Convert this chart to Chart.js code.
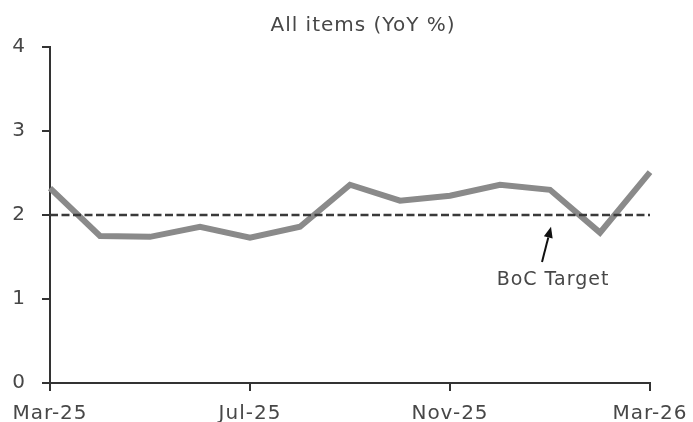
<!DOCTYPE html>
<html>
<head>
<meta charset="utf-8">
<script src="https://cdn.jsdelivr.net/npm/chart.js@4"></script>
<style>
html,body{margin:0;padding:0;background:#fff;}
#wrap{width:693px;height:422px;}
</style>
</head>
<body>
<div id="wrap"><canvas id="c" width="693" height="422"></canvas></div>
<script>
const months = ['Mar-25','Apr-25','May-25','Jun-25','Jul-25','Aug-25','Sep-25','Oct-25','Nov-25','Dec-25','Jan-26','Feb-26','Mar-26'];
const allItems = [2.32, 1.75, 1.74, 1.86, 1.73, 1.86, 2.36, 2.17, 2.23, 2.36, 2.30, 1.79, 2.51];
const bocTarget = [2, 2, 2, 2, 2, 2, 2, 2, 2, 2, 2, 2, 2];
const yTicks = [0, 1, 2, 3, 4];
const titleText = 'All items (YoY %)';
const noteText = 'BoC Target';

const FONT = '"DejaVu Sans", sans-serif';
const TXT = '#474747';
const AX = '#333333';
const SPACING = '1px';

const spacingPlugin = {
  id: 'spacing',
  beforeInit(chart){ chart.ctx.letterSpacing = SPACING; },
  beforeUpdate(chart){ chart.ctx.letterSpacing = SPACING; },
  beforeDraw(chart){ chart.ctx.letterSpacing = SPACING; }
};

const titlePlugin = {
  id: 'customTitle',
  afterDraw(chart){
    const ctx = chart.ctx;
    ctx.save();
    ctx.letterSpacing = SPACING;
    ctx.font = '20px ' + FONT;
    ctx.fillStyle = TXT;
    ctx.textAlign = 'center';
    ctx.textBaseline = 'middle';
    ctx.fillText(titleText, 363, 26);
    ctx.restore();
  }
};

const notePlugin = {
  id: 'note',
  afterDatasetsDraw(chart){
    const ctx = chart.ctx;
    const xs = chart.scales.x, ys = chart.scales.y;
    const tipX = xs.getPixelForValue(10.02), tipY = ys.getPixelForValue(1.86);
    const tailX = xs.getPixelForValue(9.84), tailY = ys.getPixelForValue(1.44);
    ctx.save();
    ctx.strokeStyle = '#111';
    ctx.fillStyle = '#111';
    ctx.lineWidth = 2;
    const ang = Math.atan2(tipY - tailY, tipX - tailX);
    const headLen = 11, headW = 4.5;
    const bx = tipX - headLen*Math.cos(ang), by = tipY - headLen*Math.sin(ang);
    ctx.beginPath();
    ctx.moveTo(tailX, tailY);
    ctx.lineTo(bx, by);
    ctx.stroke();
    ctx.beginPath();
    ctx.moveTo(tipX, tipY);
    ctx.lineTo(bx + headW*Math.sin(ang), by - headW*Math.cos(ang));
    ctx.lineTo(bx - headW*Math.sin(ang), by + headW*Math.cos(ang));
    ctx.closePath();
    ctx.fill();
    ctx.letterSpacing = SPACING;
    ctx.font = '19px ' + FONT;
    ctx.fillStyle = TXT;
    ctx.textAlign = 'center';
    ctx.textBaseline = 'middle';
    ctx.fillText(noteText, xs.getPixelForValue(10.06), ys.getPixelForValue(1.23));
    ctx.restore();
  }
};

new Chart(document.getElementById('c'), {
  type: 'line',
  data: {
    labels: months,
    datasets: [
      {
        label: 'BoC Target',
        data: bocTarget,
        borderColor: '#3a3a3a',
        borderWidth: 2.5,
        borderDash: [8, 3.5],
        borderCapStyle: 'butt',
        pointRadius: 0,
        fill: false,
        tension: 0
      },
      {
        label: 'All items',
        data: allItems,
        borderColor: '#8a8a8a',
        borderWidth: 6,
        borderJoinStyle: 'miter',
        borderCapStyle: 'butt',
        pointRadius: 0,
        fill: false,
        tension: 0
      }
    ]
  },
  options: {
    responsive: false,
    animation: false,
    events: [],
    layout: { padding: { top: 47, right: 43, left: 0, bottom: 0 } },
    plugins: { legend: { display: false }, tooltip: { enabled: false }, title: { display: false } },
    scales: {
      x: {
        type: 'category',
        offset: false,
        afterFit(scale){ scale.height = 39; scale.paddingLeft = 0; scale.paddingRight = 0; },
        border: { display: true, color: AX, width: 2 },
        grid: {
          drawOnChartArea: false,
          drawTicks: true,
          tickLength: 8,
          lineWidth: 2,
          color: ctx => (ctx.index % 4 === 0 ? AX : 'rgba(0,0,0,0)'),
          tickColor: ctx => (ctx.index % 4 === 0 ? AX : 'rgba(0,0,0,0)')
        },
        ticks: {
          autoSkip: false,
          maxRotation: 0,
          minRotation: 0,
          padding: 11,
          color: TXT,
          font: { family: FONT, size: 20 },
          callback: function(v, i){ return i % 4 === 0 ? months[i] : ''; }
        }
      },
      y: {
        min: yTicks[0],
        max: yTicks[yTicks.length - 1],
        afterFit(scale){ scale.width = 50; scale.paddingTop = 0; scale.paddingBottom = 0; },
        afterBuildTicks(scale){ scale.ticks = yTicks.map(v => ({ value: v })); },
        border: { display: true, color: AX, width: 2 },
        grid: {
          drawOnChartArea: false,
          drawTicks: true,
          tickLength: 8,
          lineWidth: 2,
          color: AX,
          tickColor: AX
        },
        ticks: {
          padding: 16,
          color: TXT,
          font: { family: FONT, size: 20 }
        }
      }
    }
  },
  plugins: [spacingPlugin, titlePlugin, notePlugin]
});
</script>
</body>
</html>
